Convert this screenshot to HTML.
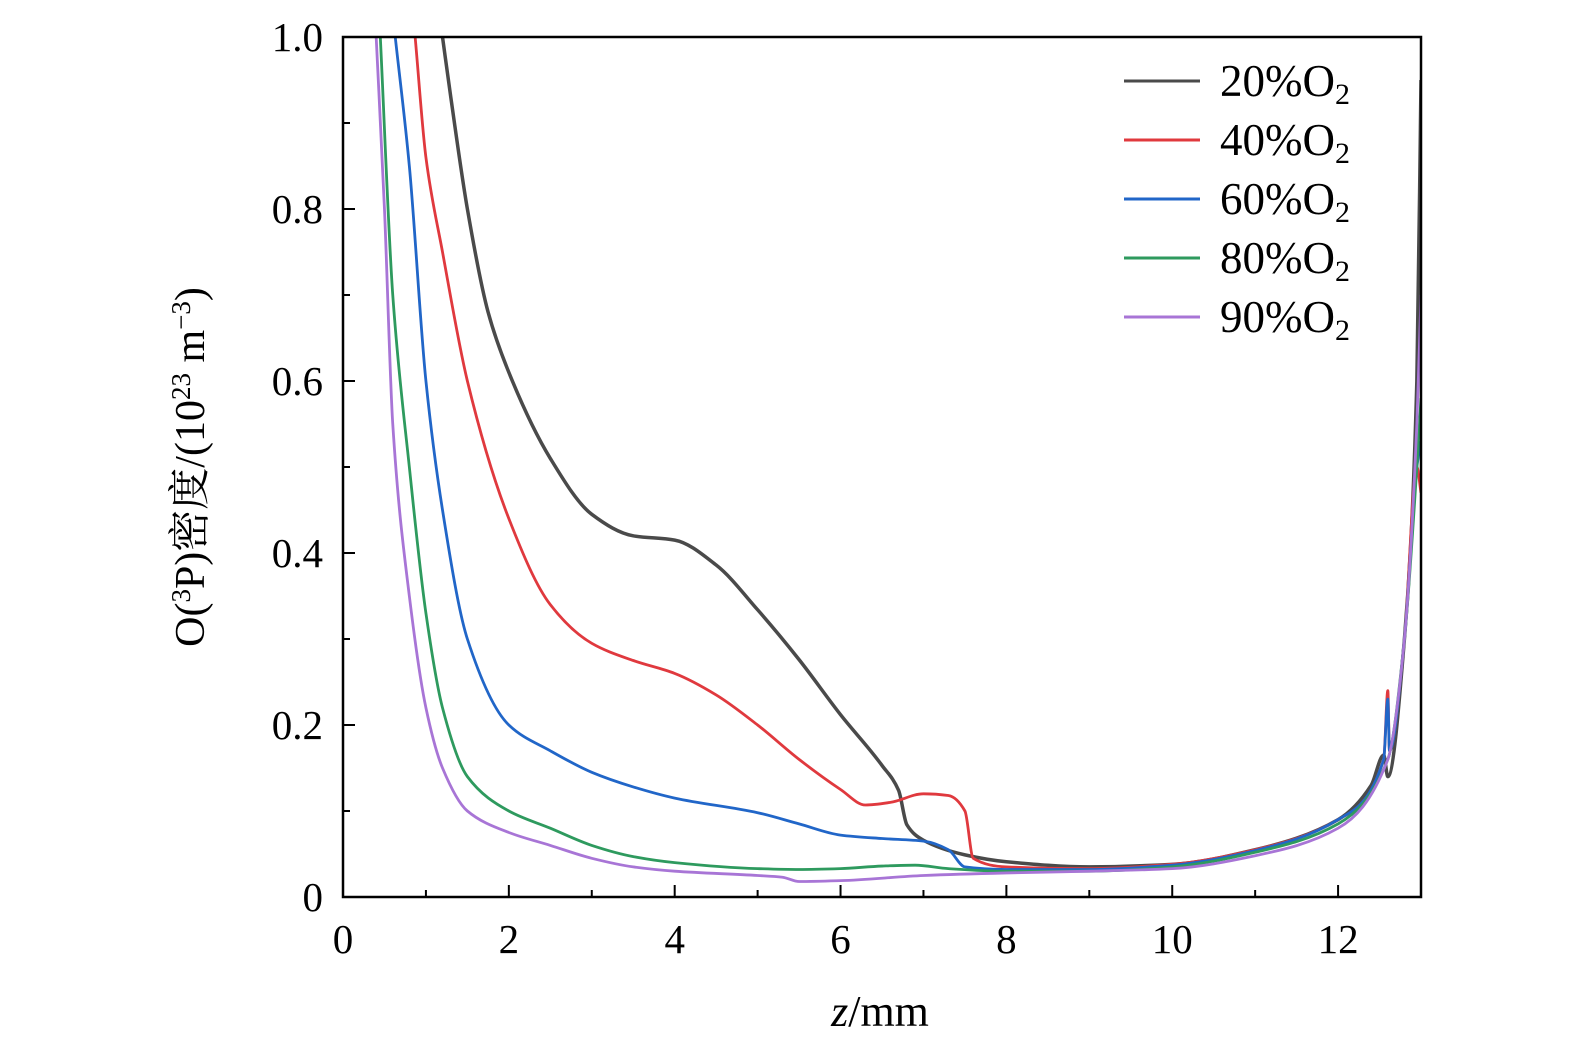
<!DOCTYPE html>
<html><head><meta charset="utf-8"><style>
body{margin:0;background:#fff}
svg text{font-family:"Liberation Serif","Noto Serif CJK SC",serif;fill:#000}
</style></head><body>
<svg id="c" width="1575" height="1053"></svg>
<script>
const xTicks=[0,2,4,6,8,10,12];
const yTicks=[0,0.2,0.4,0.6,0.8,1.0];
const yTickLabels=["0","0.2","0.4","0.6","0.8","1.0"];
const seriesNames=["20%","40%","60%","80%","90%"];
const seriesColors=["#4a4a4a","#e0393e","#2166c8","#2e9a5e","#a875d6"];
const s20=[[1.2,1.0],[1.3,0.93],[1.5,0.8],[1.75,0.68],[2,0.61],[2.5,0.51],[3,0.445],[3.5,0.42],[4,0.415],[4.5,0.386],[5,0.334],[5.5,0.276],[6,0.212],[6.5,0.153],[6.7,0.124],[6.8,0.084],[7,0.066],[7.5,0.049],[8,0.041],[9,0.035],[10,0.038],[11,0.055],[12,0.09],[12.4,0.13],[12.55,0.165],[12.6,0.14],[12.8,0.3],[12.95,0.6],[13,0.95]];
const s40=[[0.87,1.0],[1.0,0.86],[1.2,0.75],[1.5,0.6],[2,0.44],[2.5,0.34],[3,0.295],[3.5,0.275],[4,0.26],[4.5,0.235],[5,0.2],[5.5,0.16],[6,0.125],[6.3,0.107],[6.6,0.11],[7,0.12],[7.3,0.118],[7.5,0.1],[7.6,0.045],[8,0.035],[9,0.033],[10,0.038],[11,0.055],[12,0.09],[12.55,0.16],[12.6,0.24],[12.62,0.17],[12.8,0.3],[12.95,0.5],[13,0.47]];
const s60=[[0.63,1.0],[0.8,0.85],[1.0,0.6],[1.2,0.45],[1.5,0.3],[2,0.2],[2.5,0.17],[3,0.145],[3.5,0.128],[4,0.115],[5,0.098],[5.5,0.085],[6,0.072],[6.5,0.068],[7,0.065],[7.3,0.055],[7.5,0.035],[8,0.032],[9,0.032],[10,0.037],[11,0.054],[12,0.09],[12.55,0.16],[12.6,0.23],[12.62,0.17],[12.8,0.3],[12.95,0.5],[13,0.53]];
const s80=[[0.45,1.0],[0.6,0.7],[0.8,0.5],[1.0,0.33],[1.2,0.22],[1.5,0.14],[2,0.1],[2.5,0.08],[3,0.06],[3.5,0.047],[4,0.04],[5,0.033],[5.5,0.032],[6,0.033],[6.5,0.036],[6.9,0.037],[7.3,0.033],[8,0.03],[9,0.03],[10,0.035],[11,0.052],[12,0.085],[12.6,0.16],[12.8,0.3],[12.95,0.5],[13,0.58]];
const s90=[[0.4,1.0],[0.5,0.8],[0.6,0.55],[0.8,0.35],[1.0,0.22],[1.2,0.15],[1.5,0.1],[2,0.075],[2.5,0.06],[3,0.045],[3.5,0.035],[4,0.03],[5,0.025],[5.3,0.023],[5.5,0.018],[6,0.019],[7,0.025],[8,0.028],[9,0.03],[10,0.033],[11,0.048],[12,0.08],[12.6,0.16],[12.8,0.3],[12.95,0.55],[13,0.7]];
const allSeries=[s20,s40,s60,s80,s90];
const X0=343,X1=1421,Y0=897,Y1=37,XMAX=13,YMAX=1;
const sx=v=>X0+(X1-X0)*v/XMAX, sy=v=>Y0-(Y0-Y1)*v/YMAX;
const svg=document.getElementById('c');const NS='http://www.w3.org/2000/svg';
function mk(t,a,p){const e=document.createElementNS(NS,t);for(const k in a)e.setAttribute(k,a[k]);(p||svg).appendChild(e);return e;}
function monoPath(pts){
  const P=pts.map(d=>[sx(d[0]),sy(d[1])]);const n=P.length;
  const dx=[],m=[];for(let i=0;i<n-1;i++){dx.push(P[i+1][0]-P[i][0]);m.push((P[i+1][1]-P[i][1])/dx[i]);}
  const t=[m[0]];for(let i=1;i<n-1;i++){t.push(m[i-1]*m[i]<=0?0:(dx[i-1]+dx[i])*3/((2*dx[i]+dx[i-1])/m[i-1]+(dx[i]+2*dx[i-1])/m[i]));}t.push(m[n-2]);
  let d='M'+P[0][0]+','+P[0][1];
  for(let i=0;i<n-1;i++){const h=dx[i]/3;d+=' C'+(P[i][0]+h)+','+(P[i][1]+t[i]*h)+' '+(P[i+1][0]-h)+','+(P[i+1][1]-t[i+1]*h)+' '+P[i+1][0]+','+P[i+1][1];}
  return d;}
const clip=mk('clipPath',{id:'cp'});mk('rect',{x:X0,y:Y1,width:X1-X0,height:Y0-Y1},clip);
allSeries.forEach((s,i)=>{
  const p=mk('path',{d:monoPath(s),fill:'none',stroke:seriesColors[i],'stroke-width':i==0?3.5:2.8,'stroke-linejoin':'round','clip-path':'url(#cp)'});
  
  
});
const fr=mk('rect',{x:X0,y:Y1,width:X1-X0,height:Y0-Y1,fill:'none',stroke:'#000','stroke-width':2.5});

for(let v=0;v<=13;v++){const L=v%2==0?12:7;mk('line',{x1:sx(v),x2:sx(v),y1:Y0,y2:Y0-L,stroke:'#000','stroke-width':2});}
for(let k=0;k<=10;k++){const v=k/10;const L=k%2==0?12:7;mk('line',{x1:X0,x2:X0+L,y1:sy(v),y2:sy(v),stroke:'#000','stroke-width':2});}
xTicks.forEach(v=>{const t=mk('text',{x:sx(v),y:953,'font-size':41,'text-anchor':'middle'});t.textContent=v;
});
yTicks.forEach((v,i)=>{const t=mk('text',{x:323,y:sy(v)+14,'font-size':41,'text-anchor':'end'});t.textContent=yTickLabels[i];
});
seriesNames.forEach((n,i)=>{const y=81+i*59;
 const l=mk('line',{x1:1124,x2:1200,y1:y,y2:y,stroke:seriesColors[i],'stroke-width':3});
 
 const t=mk('text',{x:1220,y:y+15,'font-size':45});t.innerHTML=n+'O<tspan font-size="30" dy="8">2</tspan>';
 });
const xl=mk('text',{x:880,y:1026,'font-size':44,'text-anchor':'middle'});xl.innerHTML='<tspan font-style="italic">z</tspan>/mm';

const yl=mk('text',{x:0,y:0,'font-size':42,'text-anchor':'middle',transform:'translate(204,467) rotate(-90)'});
yl.innerHTML='O(<tspan font-size="27" dy="-14">3</tspan><tspan dy="14">P)密度/(10</tspan><tspan font-size="27" dy="-14">23</tspan><tspan dy="14"> m</tspan><tspan font-size="27" dy="-14">−3</tspan><tspan dy="14">)</tspan>';

</script>
</body></html>
